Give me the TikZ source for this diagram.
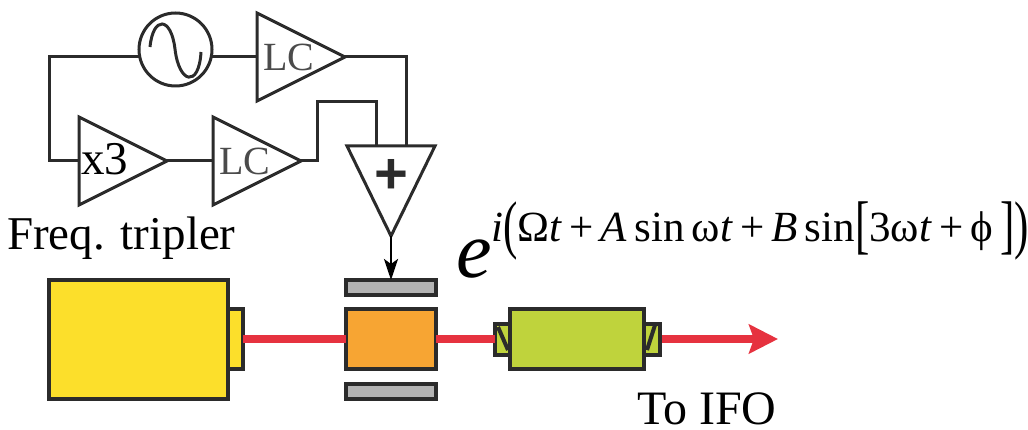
\documentclass[tikz,border=0pt]{standalone}
\usepackage{fontspec}
\setmainfont{Liberation Serif}
\newfontfamily\plusfont{Liberation Sans}
\usetikzlibrary{shapes.geometric,arrows.meta}
\definecolor{ink}{HTML}{2B2B2B}
\definecolor{yellowbox}{HTML}{FCDF2B}
\definecolor{orangebox}{HTML}{F7A533}
\definecolor{greybox}{HTML}{B3B3B3}
\definecolor{greenbox}{HTML}{BFD33C}
\definecolor{beam}{HTML}{E6323F}
\newcommand{\fs}[1]{\fontsize{#1}{#1}\selectfont}
\newcommand{\tall}[1]{\raisebox{-5pt}{\scalebox{1}[1.5]{#1}}}
\tikzset{
  x=1pt,y=-1pt,
  amp/.style={draw=ink,line width=3pt,isosceles triangle,isosceles triangle stretches,shape border rotate=0,minimum width=88pt,minimum height=88pt,inner sep=0pt,outer sep=0pt,anchor=lower side},
  wire/.style={draw=ink,line width=3pt,line join=miter},
  boxy/.style={draw=ink,line width=4pt,rectangle,inner sep=0pt,outer sep=0pt,anchor=north west},
  ray/.style={draw=beam,line width=8pt},
  lbl/.style={inner sep=0pt,anchor=base west,text=black},
  lc/.style={inner sep=0pt,anchor=base west,text=ink!85,font=\fs{40}},
}
\begin{document}
\begin{tikzpicture}
\useasboundingbox (0,0) rectangle (1028,430);
% electronics
\node[draw=ink,line width=3pt,circle,minimum size=73pt,inner sep=0pt,outer sep=0pt] (osc) at (175.5,49.5) {};
\draw[ink,line width=3pt] (150,47) .. controls (153,16) and (171,16) .. (175,49) .. controls (179,84) and (199,88) .. (201,52);
\node[amp] (lca) at (257,57) {};
\node[amp] (tri) at (79,161) {};
\node[amp] (lcb) at (213,161) {};
\node[amp,shape border rotate=270,minimum width=88pt,minimum height=90pt] (sum) at (391,146) {};
\coordinate (bend) at (49,57);
\draw[wire] (osc.west |- bend) -- (bend) -- (bend |- tri.lower side) -- (tri.lower side);
\draw[wire] (osc.east |- lca.lower side) -- (lca.lower side);
\draw[wire] (tri.apex) -- (lcb.lower side);
\draw[wire] (lca.apex) -- (406,57) -- (406,146);
\draw[wire] (lcb.apex) -- (317,161) -- (317,102) -- (376,102) -- (376,146);
\node[lc] (lcaT) at (263,71) {LC};
\node[lc] (lcbT) at (219,175) {LC};
\node[lbl,font=\fs{47}] (triT) at (81,175) {x3};
\node[inner sep=0pt,font=\plusfont\bfseries\fs{58},text=ink] (plus) at (391,176) {+};
\node[lbl,font=\fs{47}] (fq) at (7,250) {Freq. tripler};
% optics
\node[boxy,fill=greybox,minimum width=90pt,minimum height=15pt] (gt) at (346,280) {};
\node[boxy,fill=greybox,minimum width=90pt,minimum height=15pt] (gb) at (346,384) {};
\draw[black,line width=2.6pt,-{Stealth[length=21pt,width=14pt,inset=5pt]}] (sum.apex) -- (gt.north);
\node[boxy,fill=yellowbox,minimum width=15pt,minimum height=60pt] (lasernose) at (228,309) {};
\node[boxy,fill=yellowbox,minimum width=179pt,minimum height=119pt] (laser) at (49,280) {};
\node[boxy,fill=orangebox,minimum width=90pt,minimum height=60pt] (eom) at (346,309) {};
\node[boxy,fill=greenbox,minimum width=16pt,minimum height=31pt] (capl) at (495,324) {};
\node[boxy,fill=greenbox,minimum width=16pt,minimum height=31pt] (capr) at (644,324) {};
\draw[ink,line width=4pt] (498,327) -- (508,350);
\draw[ink,line width=4pt] (655,325) -- (647,350);
\node[boxy,fill=greenbox,minimum width=134pt,minimum height=60pt] (amp2) at (510,309) {};
\coordinate (tip) at (778,339);
\coordinate (rs) at (662,339);
\coordinate (ls) at (243,339);
\draw[ray,-{Stealth[length=29pt,width=29pt,inset=5pt]}] (rs) -- (tip);
\draw[ray] (ls) -- (ls -| eom.west);
\draw[ray] (ls -| eom.east) -- (ls -| capl.west);
\node[lbl,font=\fs{48}] (ifo) at (637,424) {To IFO};
% formula
\node[lbl,font=\itshape\fs{80}] (ee) at (456,278) {e};
\node[lbl,font=\fs{43}] (ex) at (491,242) {\textit{i}\tall{(}Ω\textit{t}\,+\,\textit{A}\,sin\,ω\textit{t}\,+\,\textit{B}\,sin\tall{[}3ω\textit{t}\,+\,ϕ\,\tall{]}\tall{)}};
\end{tikzpicture}
\end{document}
